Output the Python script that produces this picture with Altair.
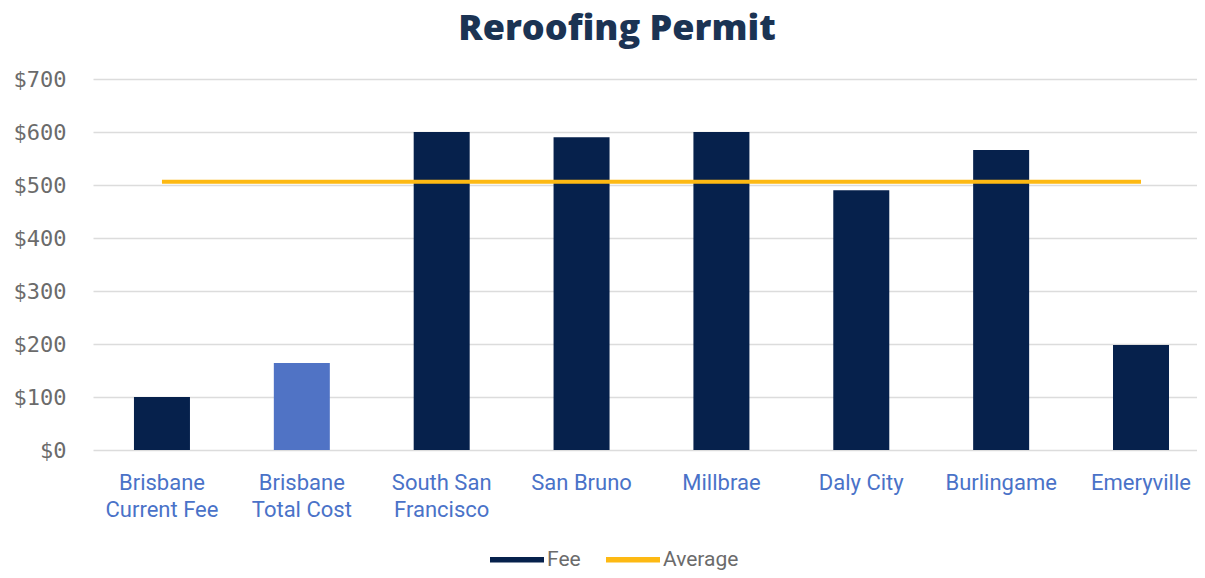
import altair as alt
import pandas as pd

categories = ["Brisbane\nCurrent Fee", "Brisbane\nTotal Cost", "South San\nFrancisco",
              "San Bruno", "Millbrae", "Daly City", "Burlingame", "Emeryville"]
fees = [100, 164, 600, 590, 600, 490, 566, 198]
average = [506, 506, 506, 506, 506, 506, 506, 506]
y_ticks = [0, 100, 200, 300, 400, 500, 600, 700]
highlight = "Brisbane\nTotal Cost"

NAVY = "#06214C"
LIGHT = "#5073C5"
ORANGE = "#FDB913"

bars_df = pd.DataFrame({"category": categories, "value": fees, "series": "Fee"})
line_df = pd.DataFrame({"category": categories, "value": average, "series": "Average"})

x_enc = alt.X(
    "category:N", sort=categories,
    scale=alt.Scale(paddingInner=0.6, paddingOuter=0.2467, align=0.594, round=False),
    axis=alt.Axis(title=None, labelAngle=0, domain=False, ticks=False,
                  labelExpr="split(datum.label, '\\n')",
                  labelFont="Roboto", labelFontSize=22, labelColor="#4A72C8",
                  labelLineHeight=27, labelPadding=22, labelBaseline="top"),
)
y_enc = alt.Y(
    "value:Q", scale=alt.Scale(domain=[0, 700], nice=False),
    axis=alt.Axis(title=None, values=y_ticks, format="$,.0f", domain=False, ticks=False,
                  labelFont="DejaVu Sans Mono", labelFontSize=22, labelColor="#6B6B6B",
                  labelPadding=27, gridColor="#DCDCDC", gridWidth=1.5),
)

color_scale = alt.Scale(domain=["Fee", "Average"], range=[NAVY, ORANGE])
legend = alt.Legend(
    title=None, orient="none", legendX=410.5, legendY=467, direction="horizontal",
    symbolSize=729, labelFont="Roboto", labelFontSize=21, labelColor="#6B6B6B",
    labelOffset=16.5, columnPadding=24, symbolType="M-2,-0.2H2V0.2H-2Z",
    symbolStrokeWidth=0, symbolOpacity=1, padding=0,
)

bars = alt.Chart(bars_df).mark_bar(size=56).encode(
    x=x_enc, y=y_enc,
    color=alt.condition(alt.datum.category == highlight, alt.value(LIGHT),
                        alt.Color("series:N", scale=color_scale, legend=legend)),
)
line = alt.Chart(line_df).mark_line(strokeWidth=4).encode(
    x=x_enc, y=y_enc,
    color=alt.Color("series:N", scale=color_scale, legend=None),
)

chart = alt.layer(bars, line).properties(
    width=1104, height=371,
    autosize=alt.AutoSizeParams(type="none"),
    padding={"left": 85, "top": 71, "right": 0, "bottom": 120},
    title=alt.TitleParams("Reroofing Permit", font="Open Sans", fontSize=36, fontWeight=800,
                          color="#1B3353", anchor="middle", dx=-28, offset=20),
).configure_view(stroke=None)

chart.save("out.html", embed_options={"renderer": "svg", "actions": False})
